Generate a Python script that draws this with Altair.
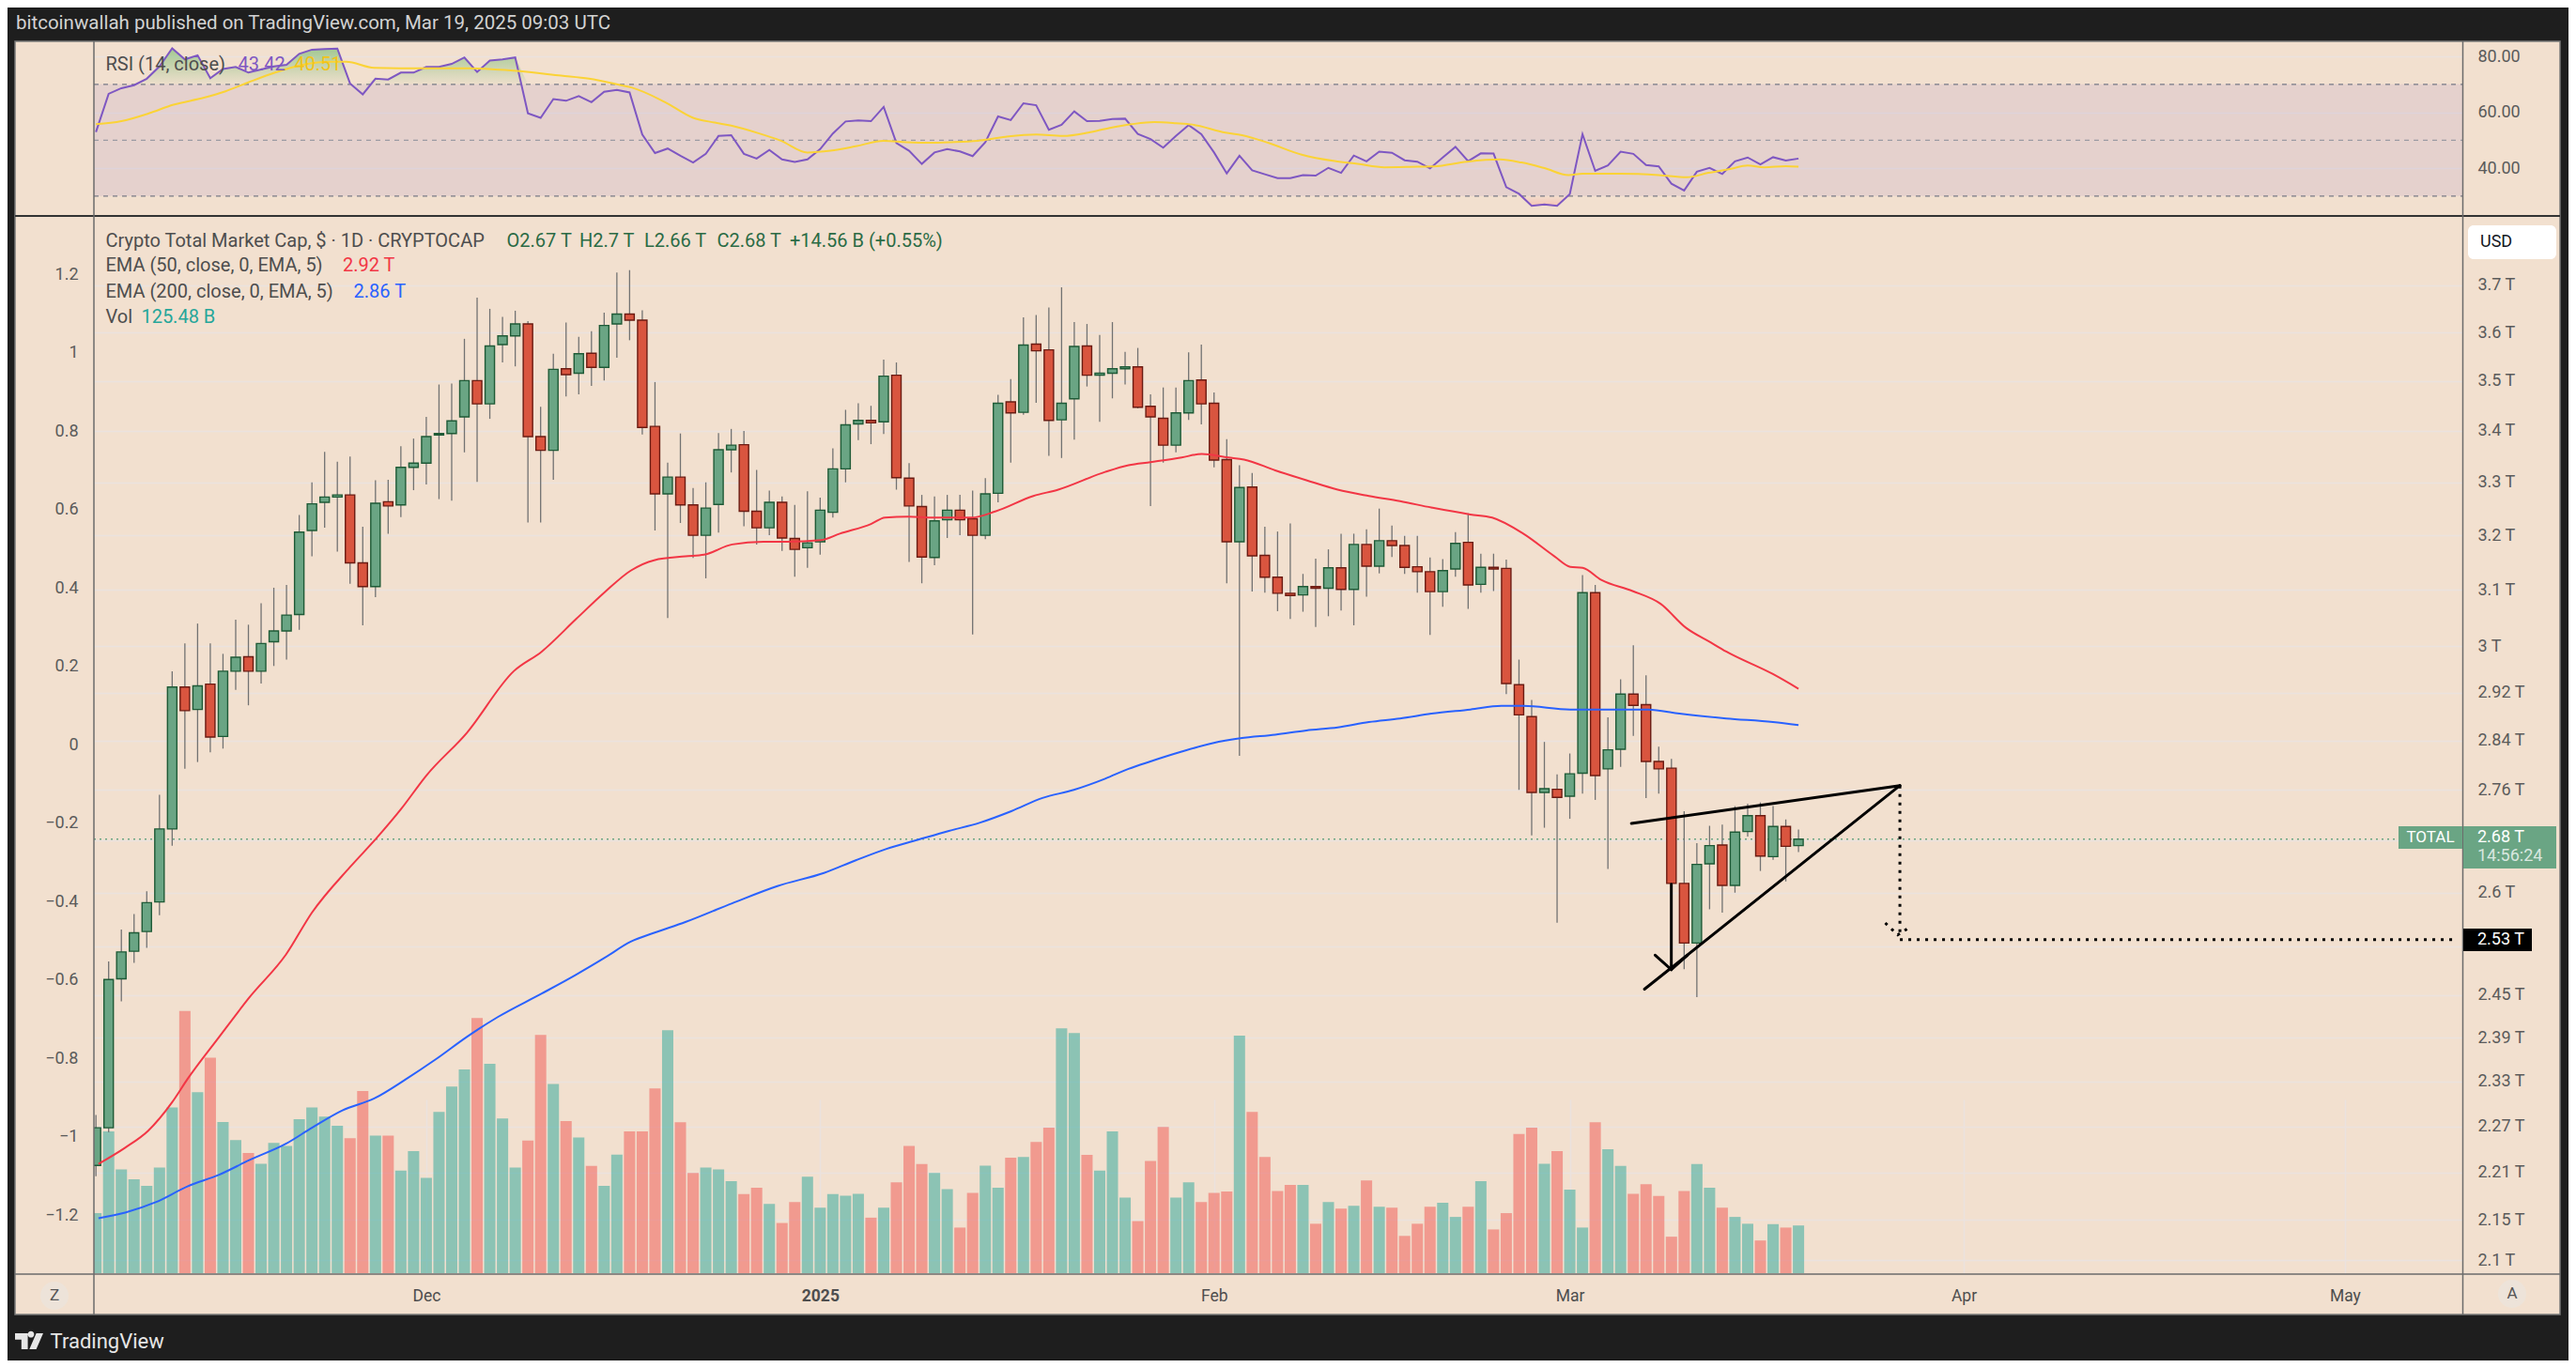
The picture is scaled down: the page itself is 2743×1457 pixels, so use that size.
import altair as alt
import pandas as pd

# ---------------- colours ----------------
BG = "#f2e0cf"
DARK = "#1e1e1e"
GRID = "#ebe2de"
TXT = "#4e4e4e"
AXTXT = "#5b5b5b"
UP_BODY, UP_EDGE = "#6aa584", "#1e5a36"
DN_BODY, DN_EDGE = "#d9553f", "#6b1b12"
WICK = "#727272"
VOL_UP, VOL_DN = "#26a69a", "#ef5350"
EMA50_C, EMA200_C = "#f23645", "#2962ff"
RSI_C, RSIMA_C = "#7e57c2", "#fbd336"
VAL_GREEN = "#2b6b45"
LEG = 20  # legend font size

# ---------------- data ----------------
FIRST_DAY = "2024-11-05"
OPEN = [2.219, 2.268, 2.473, 2.513, 2.542, 2.586, 2.698, 2.930, 2.892, 2.935,
        2.847, 2.957, 2.982, 2.957, 3.008, 3.027, 3.056, 3.209, 3.262, 3.272,
        3.276, 3.149, 3.106, 3.263, 3.257, 3.329, 3.337, 3.392, 3.395, 3.428,
        3.501, 3.454, 3.575, 3.593, 3.618, 3.389, 3.362, 3.525, 3.516, 3.557,
        3.528, 3.618, 3.639, 3.626, 3.409, 3.278, 3.310, 3.257, 3.200, 3.258,
        3.363, 3.373, 3.245, 3.214, 3.262, 3.194, 3.177, 3.188, 3.243, 3.326,
        3.414, 3.421, 3.418, 3.512, 3.308, 3.254, 3.159, 3.229, 3.247, 3.231,
        3.200, 3.279, 3.458, 3.437, 3.576, 3.564, 3.422, 3.464, 3.572, 3.512,
        3.516, 3.525, 3.529, 3.449, 3.425, 3.372, 3.436, 3.502, 3.455, 3.344,
        3.188, 3.291, 3.163, 3.123, 3.094, 3.091, 3.106, 3.103, 3.140, 3.101,
        3.183, 3.143, 3.190, 3.181, 3.142, 3.133, 3.097, 3.138, 3.187, 3.110,
        3.141, 3.139, 2.934, 2.880, 2.756, 2.761, 2.750, 2.787, 3.095, 2.794,
        2.826, 2.918, 2.900, 2.806, 2.795, 2.614, 2.525, 2.644, 2.673, 2.611,
        2.694, 2.719, 2.655, 2.702, 2.672]
HIGH = [2.285, 2.498, 2.545, 2.568, 2.602, 2.752, 2.957, 3.005, 3.040, 3.005,
        2.987, 3.047, 3.038, 3.076, 3.104, 3.109, 3.238, 3.300, 3.359, 3.340,
        3.350, 3.216, 3.304, 3.305, 3.370, 3.385, 3.428, 3.493, 3.495, 3.587,
        3.674, 3.650, 3.633, 3.646, 3.624, 3.448, 3.556, 3.621, 3.591, 3.603,
        3.642, 3.728, 3.733, 3.647, 3.498, 3.338, 3.395, 3.289, 3.300, 3.396,
        3.404, 3.400, 3.324, 3.284, 3.273, 3.257, 3.283, 3.271, 3.366, 3.442,
        3.455, 3.450, 3.544, 3.538, 3.337, 3.276, 3.273, 3.276, 3.276, 3.284,
        3.308, 3.472, 3.504, 3.632, 3.637, 3.653, 3.696, 3.622, 3.618, 3.595,
        3.622, 3.560, 3.568, 3.473, 3.487, 3.487, 3.559, 3.575, 3.477, 3.384,
        3.333, 3.318, 3.216, 3.207, 3.222, 3.129, 3.157, 3.174, 3.203, 3.203,
        3.211, 3.250, 3.218, 3.199, 3.199, 3.159, 3.156, 3.206, 3.241, 3.166,
        3.166, 3.155, 2.977, 2.908, 2.838, 2.785, 2.819, 3.127, 3.109, 2.879,
        2.943, 3.002, 2.950, 2.830, 2.810, 2.726, 2.676, 2.703, 2.705, 2.734,
        2.738, 2.740, 2.734, 2.713, 2.697]
LOW = [2.205, 2.262, 2.441, 2.496, 2.518, 2.566, 2.672, 2.794, 2.805, 2.821,
       2.827, 2.925, 2.899, 2.936, 2.966, 2.977, 3.029, 3.161, 3.214, 3.170,
       3.111, 3.037, 3.087, 3.203, 3.234, 3.285, 3.296, 3.268, 3.265, 3.358,
       3.301, 3.424, 3.538, 3.530, 3.224, 3.224, 3.305, 3.469, 3.473, 3.490,
       3.501, 3.548, 3.584, 3.393, 3.209, 3.050, 3.223, 3.158, 3.121, 3.205,
       3.319, 3.217, 3.183, 3.200, 3.171, 3.124, 3.140, 3.164, 3.233, 3.300,
       3.382, 3.374, 3.394, 3.286, 3.151, 3.112, 3.145, 3.195, 3.200, 3.021,
       3.193, 3.262, 3.338, 3.432, 3.456, 3.351, 3.347, 3.383, 3.489, 3.418,
       3.465, 3.493, 3.445, 3.255, 3.338, 3.358, 3.422, 3.413, 3.329, 3.112,
       2.815, 3.097, 3.095, 3.062, 3.048, 3.061, 3.034, 3.053, 3.063, 3.037,
       3.088, 3.130, 3.160, 3.129, 3.095, 3.020, 3.070, 3.124, 3.066, 3.095,
       3.098, 2.918, 2.760, 2.688, 2.700, 2.555, 2.714, 2.754, 2.744, 2.636,
       2.797, 2.848, 2.747, 2.754, 2.590, 2.487, 2.447, 2.575, 2.570, 2.600,
       2.686, 2.633, 2.650, 2.617, 2.662]
CLOSE = [2.268, 2.472, 2.512, 2.540, 2.585, 2.698, 2.930, 2.890, 2.932, 2.846,
         2.957, 2.981, 2.957, 3.005, 3.027, 3.055, 3.206, 3.259, 3.272, 3.276,
         3.149, 3.106, 3.260, 3.255, 3.329, 3.337, 3.389, 3.395, 3.420, 3.501,
         3.454, 3.572, 3.593, 3.618, 3.389, 3.362, 3.524, 3.513, 3.556, 3.528,
         3.615, 3.639, 3.626, 3.407, 3.278, 3.310, 3.257, 3.200, 3.251, 3.363,
         3.372, 3.245, 3.214, 3.262, 3.195, 3.174, 3.186, 3.247, 3.326, 3.412,
         3.421, 3.416, 3.510, 3.309, 3.255, 3.160, 3.227, 3.247, 3.229, 3.200,
         3.278, 3.455, 3.436, 3.574, 3.562, 3.421, 3.455, 3.571, 3.512, 3.516,
         3.525, 3.529, 3.447, 3.428, 3.372, 3.436, 3.501, 3.454, 3.343, 3.188,
         3.290, 3.162, 3.123, 3.094, 3.090, 3.106, 3.103, 3.140, 3.101, 3.183,
         3.143, 3.190, 3.181, 3.141, 3.133, 3.097, 3.135, 3.185, 3.109, 3.141,
         3.138, 2.936, 2.883, 2.756, 2.762, 2.748, 2.786, 3.095, 2.783, 2.825,
         2.918, 2.899, 2.806, 2.794, 2.614, 2.525, 2.643, 2.672, 2.611, 2.693,
         2.719, 2.656, 2.702, 2.671, 2.682]
VOLUME_B = [158, 373, 273, 247, 230, 278, 436, 690, 476, 567,
            398, 350, 316, 288, 343, 335, 405, 436, 412, 388,
            355, 479, 362, 362, 270, 321, 251, 424, 491, 536,
            671, 551, 407, 278, 349, 627, 498, 400, 357, 282,
            230, 312, 373, 373, 486, 639, 397, 264, 278, 273,
            242, 208, 225, 182, 132, 187, 254, 172, 208, 204,
            209, 146, 172, 239, 335, 287, 264, 221, 120, 211,
            283, 225, 304, 306, 345, 383, 644, 632, 311, 270,
            373, 199, 137, 295, 385, 199, 239, 187, 211, 215,
            625, 424, 306, 216, 232, 232, 130, 187, 170, 177,
            244, 175, 172, 98, 130, 175, 185, 148, 175, 242,
            115, 158, 366, 383, 288, 321, 220, 120, 397, 326,
            282, 209, 234, 203, 96, 216, 287, 225, 172, 148,
            130, 86, 129, 120, 125.48]
RSI = [52.9, 66.6, 68.6, 69.7, 72.0, 76.4, 82.9, 78.9, 80.4, 72.2,
       75.5, 76.2, 74.2, 75.3, 76.4, 77.0, 80.9, 82.4, 82.6, 82.8,
       70.3, 66.4, 72.0, 71.7, 74.2, 74.2, 76.2, 76.2, 77.3, 79.6,
       74.4, 78.5, 78.9, 79.6, 59.6, 58.0, 64.7, 64.1, 65.8, 63.6,
       67.3, 68.0, 67.1, 52.0, 45.4, 47.0, 44.4, 42.0, 45.1, 51.5,
       51.8, 45.1, 43.4, 46.5, 43.1, 42.2, 43.1, 46.8, 52.4, 56.7,
       57.1, 56.8, 61.9, 49.0, 46.2, 41.5, 45.6, 46.8, 46.0, 44.3,
       49.3, 58.5, 57.2, 63.2, 62.5, 53.7, 55.5, 60.3, 56.8, 56.9,
       57.6, 57.7, 52.2, 50.4, 47.3, 51.5, 55.4, 52.1, 45.6, 38.1,
       44.4, 39.2, 37.8, 36.4, 36.4, 37.5, 37.3, 40.1, 38.3, 44.5,
       42.4, 45.9, 45.5, 42.8, 42.3, 39.9, 43.8, 47.6, 42.5, 45.3,
       45.2, 33.2, 30.8, 26.5, 27.0, 26.5, 30.7, 52.1, 39.0, 41.0,
       45.9, 45.1, 41.1, 40.6, 34.4, 32.0, 38.7, 40.1, 37.9, 42.4,
       43.8, 41.3, 43.9, 42.7, 43.42]

# day offsets are counted from 2024-12-01
EMA50_DAY = [-25.8, -23.7, -21.9, -20.0, -18.8, -16.3, -13.9, -11.05, -9.0, -6.0,
             -3.9, -2.0, 0.0, 3.19, 6.88, 9.09, 11.79, 14.0, 16.09, 17.93,
             20.39, 21.86, 24.07, 26.53, 28.37, 31.08, 32.55, 35.0, 36.1, 37.95,
             39.92, 42.87, 44.83, 47.78, 49.74, 53.43, 55.27, 56.99, 59.45, 61.04,
             63.13, 64.36, 66.82, 69.27, 71.73, 74.19, 76.64, 79.1, 82.17, 83.89,
             86.34, 88.8, 90.03, 91.01, 92.48, 94.94, 97.15, 99.12, 101.08, 102.31,
             105.99, 108.0]
EMA50 = [2.221, 2.242, 2.264, 2.302, 2.333, 2.391, 2.447, 2.508, 2.570, 2.639,
         2.684, 2.729, 2.783, 2.853, 2.957, 2.991, 3.048, 3.095, 3.135, 3.154,
         3.161, 3.164, 3.183, 3.188, 3.188, 3.191, 3.203, 3.221, 3.233, 3.235,
         3.233, 3.233, 3.245, 3.274, 3.286, 3.320, 3.333, 3.339, 3.348, 3.355,
         3.348, 3.344, 3.323, 3.304, 3.286, 3.274, 3.264, 3.252, 3.239, 3.233,
         3.203, 3.161, 3.142, 3.140, 3.118, 3.098, 3.075, 3.033, 3.007, 2.991,
         2.952, 2.927]
EMA200_DAY = [-25.8, -23.7, -21.3, -18.8, -16.3, -13.9, -11.05, -9.0, -6.6, -4.1,
              -1.6, 0.74, 3.19, 5.65, 9.09, 11.79, 14.0, 16.09, 17.93, 20.39,
              24.07, 27.63, 31.3, 33.76, 36.22, 38.67, 41.13, 43.59, 46.04, 48.5,
              50.96, 53.43, 55.27, 56.99, 59.45, 61.9, 64.07, 66.82, 69.27, 71.73,
              74.19, 76.64, 79.1, 82.17, 84.62, 86.34, 90.03, 96.17, 98.63, 102.31,
              105.99, 108.0]
EMA200 = [2.152, 2.159, 2.172, 2.192, 2.207, 2.226, 2.247, 2.268, 2.291, 2.307,
          2.333, 2.360, 2.391, 2.419, 2.452, 2.479, 2.503, 2.527, 2.540, 2.556,
          2.584, 2.610, 2.630, 2.649, 2.667, 2.681, 2.695, 2.708, 2.726, 2.747,
          2.760, 2.778, 2.794, 2.806, 2.822, 2.836, 2.844, 2.850, 2.857, 2.862,
          2.871, 2.877, 2.885, 2.892, 2.898, 2.898, 2.892, 2.892, 2.885, 2.877,
          2.871, 2.866]
RSI_MA_DAY = [-26, -24, -21.84, -19.9, -17.5, -15.8, -14.05, -11.9, -9.7, -7.6,
              -6.3, -4.1, -0.2, 3.2, 7.1, 10.6, 12.8, 15.3, 16.2, 18.8,
              21.0, 22.7, 24.0, 26.2, 27.9, 30.0, 31.8, 33.9, 36.0, 37.8,
              39.6, 41.3, 43.4, 45.6, 48.0, 50.1, 52.1, 53.8, 55.5, 57.3,
              59.0, 60.3, 62.9, 64.2, 66.3, 68.9, 71.5, 73.3, 75.4, 78.0,
              79.3, 81.9, 84.5, 86.2, 88.0, 89.9, 91.0, 94.0, 97.0, 99.2,
              100.9, 102.6, 104.0, 105.3, 107.0, 108.0]
RSI_MA = [55.7, 56.8, 59.6, 62.7, 65.2, 67.5, 70.6, 74.2, 77.0, 78.1,
          78.1, 75.9, 75.7, 75.7, 74.8, 73.1, 72.0, 69.7, 68.8, 63.6,
          58.0, 56.3, 55.2, 52.4, 49.8, 45.6, 46.2, 47.9, 49.8, 49.3,
          49.1, 49.3, 49.8, 51.2, 52.0, 51.5, 52.7, 54.4, 55.7, 56.5,
          56.1, 55.6, 52.7, 51.8, 49.0, 44.8, 42.5, 41.5, 40.3, 40.5,
          40.6, 42.3, 43.1, 42.0, 40.0, 37.5, 38.0, 38.0, 37.5, 36.7,
          38.3, 39.7, 40.9, 40.3, 40.7, 40.51]

# drawing-tool objects (day offset, price in T)
TRI_SEG = ["upper", "upper", "lower", "lower", "shaft", "shaft",
           "barbL", "barbL", "barbR", "barbR"]
TRI_DAY = [94.85, 115.98, 95.88, 115.98, 97.99, 97.99, 96.72, 97.99, 99.26, 97.99]
TRI_PRICE = [2.7068, 2.7669, 2.4582, 2.7669, 2.6129, 2.4864, 2.5073, 2.4864, 2.5073, 2.4864]
DOT_SEG = ["vert", "vert", "horiz", "horiz", "head", "head", "head"]
DOT_DAY = [115.98, 115.98, 115.98, 159.88, 114.83, 115.81, 116.74]
DOT_PRICE = [2.7669, 2.5407, 2.53, 2.53, 2.5546, 2.5370, 2.5481]
TARGET = 2.53

PRICE_TICKS = [3.7, 3.6, 3.5, 3.4, 3.3, 3.2, 3.1, 3, 2.92, 2.84, 2.76, 2.68,
               2.6, 2.52, 2.45, 2.39, 2.33, 2.27, 2.21, 2.15, 2.1]
RSI_TICKS = [80, 60, 40]
RSI_LEVELS = [70, 30]
RSI_MID = [50]
LEFT_TICKS = [1.2, 1, 0.8, 0.6, 0.4, 0.2, 0, -0.2, -0.4, -0.6, -0.8, -1, -1.2]
MONTH_TICKS = [0, 31, 62, 90, 121, 151]
MONTH_LABELS = ["Dec", "2025", "Feb", "Mar", "Apr", "May"]

n = len(CLOSE)
assert len(OPEN) == len(HIGH) == len(LOW) == n == len(VOLUME_B) == len(RSI)
assert len(EMA50_DAY) == len(EMA50) and len(EMA200_DAY) == len(EMA200)
assert len(RSI_MA_DAY) == len(RSI_MA)

dates = pd.date_range(FIRST_DAY, periods=n, freq="D")
origin = pd.Timestamp("2024-12-01")
candles = pd.DataFrame({
    "date": dates.strftime("%Y-%m-%d"),
    "d": [(t - origin).days for t in dates],
    "o": OPEN, "h": HIGH, "l": LOW, "c": CLOSE, "vol": VOLUME_B, "rsi": RSI,
})
ema50_df = pd.DataFrame({"d": EMA50_DAY, "v": EMA50})
ema200_df = pd.DataFrame({"d": EMA200_DAY, "v": EMA200})
rsima_df = pd.DataFrame({"d": RSI_MA_DAY, "v": RSI_MA})
tri_df = pd.DataFrame({"seg": TRI_SEG, "d": TRI_DAY, "p": TRI_PRICE, "i": list(range(len(TRI_SEG)))})
dot_df = pd.DataFrame({"seg": DOT_SEG, "d": DOT_DAY, "p": DOT_PRICE, "i": list(range(len(DOT_SEG)))})
ONE = pd.DataFrame({"a": [0]})

# ---------------- geometry ----------------
W, H = 2522, 1312
SPLIT = 185

XS = alt.Scale(domain=[-25.79, 159.88], nice=False, zero=False)
PS = alt.Scale(type="log", domain=[2.0843, 3.8545], range=[H, SPLIT], nice=False)
VS = alt.Scale(domain=[0, 2784], range=[H, SPLIT], nice=False, zero=False)
RS = alt.Scale(domain=[23.21, 85.39], range=[SPLIT, 0], nice=False, zero=False)
LS = alt.Scale(domain=[-1.3485, 1.3509], range=[H, SPLIT], nice=False, zero=False)

lab = "''"
for v, s in reversed(list(zip(MONTH_TICKS, MONTH_LABELS))):
    lab = f"datum.value == {v} ? '{s}' : {lab}"

XAX = alt.Axis(values=MONTH_TICKS, labelExpr=lab, title=None, grid=True,
               gridColor=GRID, gridWidth=1.5, domain=False, ticks=False,
               labelPadding=24, labelBaseline="middle", labelFontSize=17.5,
               labelColor=TXT, labelOverlap=False, labelFlush=False,
               labelFontWeight={"condition": {"test": "datum.value == 31", "value": "bold"},
                                "value": "normal"})
PAX = alt.Axis(orient="right", values=PRICE_TICKS, title=None, grid=True,
               gridColor=GRID, gridWidth=1.5, domain=False, ticks=False,
               labelExpr="datum.value == 2.68 || datum.value == 2.52 ? '' : datum.value + ' T'",
               labelPadding=16, labelAlign="left", labelFontSize=18,
               labelColor=AXTXT, labelOverlap=False, offset=0)
RAX = alt.Axis(orient="right", values=RSI_TICKS, format=".2f", title=None,
               grid=True, gridColor=GRID, gridWidth=1.5, domain=False,
               ticks=False, labelPadding=16, labelAlign="left",
               labelFontSize=18, labelColor=AXTXT, labelOverlap=False, offset=0)
LAX = alt.Axis(orient="left", values=LEFT_TICKS, format="~g", title=None,
               grid=False, domain=False, ticks=False, labelPadding=17,
               labelFontSize=18, labelColor=AXTXT, labelOverlap=False)


def X(field):
    return alt.X(f"{field}:Q", scale=XS, axis=XAX)


def PY(field, axis=None):
    return alt.Y(f"{field}:Q", scale=PS, axis=axis)


def up(a, b):
    return alt.condition("datum.c >= datum.o", alt.value(a), alt.value(b))


def prect(x1, x2, y1, y2, **kw):
    return alt.Chart(ONE).mark_rect(**kw).encode(
        x=alt.value(x1), x2=alt.value(x2), y=alt.value(y1), y2=alt.value(y2))


def prule(x1, x2, y1, y2, color, w):
    return alt.Chart(ONE).mark_rule(color=color, strokeWidth=w).encode(
        x=alt.value(x1), x2=alt.value(x2), y=alt.value(y1), y2=alt.value(y2))


def txt(x, y, s, color=TXT, size=LEG, align="left", weight="normal"):
    return alt.Chart(ONE).mark_text(align=align, baseline="middle", fontSize=size,
                                    fontWeight=weight, color=color, font="Roboto").encode(
        x=alt.value(x), y=alt.value(y), text=alt.value(s))


def ptxt(p, x, dy, s, color="white", size=18, align="left"):
    return alt.Chart(pd.DataFrame({"p": [p]})).mark_text(
        align=align, baseline="middle", fontSize=size, color=color, dy=dy, font="Roboto").encode(
        x=alt.value(x), y=PY("p"), text=alt.value(s))


def pbox(p, cx, hw, top, bot, color):
    r = 12.0
    path = f"M{-hw / r:.4f},{top / r:.4f}H{hw / r:.4f}V{bot / r:.4f}H{-hw / r:.4f}Z"
    return alt.Chart(pd.DataFrame({"p": [p]})).mark_point(
        shape=path, size=576, filled=True, color=color, opacity=1, strokeWidth=0).encode(
        x=alt.value(cx), y=PY("p"))


# ---------------- RSI pane ----------------
rsi_band = alt.Chart(pd.DataFrame({"top": [70], "bot": [30]})).mark_rect(
    color=RSI_C, opacity=0.11).encode(
    x=alt.value(0), x2=alt.value(W), y=alt.Y("top:Q", scale=RS, axis=RAX), y2=alt.Y2("bot"))
rsi_lvls = alt.Chart(pd.DataFrame({"lvl": RSI_LEVELS})).mark_rule(
    color="#787b86", strokeDash=[5, 5], strokeWidth=1.3).encode(
    x=alt.value(0), x2=alt.value(W), y=alt.Y("lvl:Q", scale=RS, axis=None))
rsi_mid = alt.Chart(pd.DataFrame({"lvl": RSI_MID})).mark_rule(
    color="#9b9ba3", strokeDash=[5, 5], strokeWidth=1.3).encode(
    x=alt.value(0), x2=alt.value(W), y=alt.Y("lvl:Q", scale=RS, axis=None))
ob_fill = alt.Chart(candles).transform_calculate(
    top="max(datum.rsi, 70)", base="70").mark_area(
    clip=True,
    color=alt.Gradient(gradient="linear",
                       stops=[alt.GradientStop(color="rgba(76,175,80,0.48)", offset=0),
                              alt.GradientStop(color="rgba(76,175,80,0.03)", offset=1)],
                       x1=1, x2=1, y1=0, y2=1)).encode(
    x=X("d"), y=alt.Y("top:Q", scale=RS, axis=None), y2=alt.Y2("base"))
os_fill = alt.Chart(candles).transform_calculate(
    bot="min(datum.rsi, 30)", base="30").mark_area(
    clip=True,
    color=alt.Gradient(gradient="linear",
                       stops=[alt.GradientStop(color="rgba(255,82,82,0.02)", offset=0),
                              alt.GradientStop(color="rgba(255,82,82,0.2)", offset=1)],
                       x1=1, x2=1, y1=0, y2=1)).encode(
    x=X("d"), y=alt.Y("base:Q", scale=RS, axis=None), y2=alt.Y2("bot"))
rsi_line = alt.Chart(candles).mark_line(color=RSI_C, strokeWidth=2, clip=True).encode(
    x=X("d"), y=alt.Y("rsi:Q", scale=RS, axis=None))
rsi_ma = alt.Chart(rsima_df).mark_line(color=RSIMA_C, strokeWidth=2, clip=True,
                                       interpolate="monotone").encode(
    x=X("d"), y=alt.Y("v:Q", scale=RS, axis=None))

# ---------------- main pane ----------------
vol = alt.Chart(candles).mark_bar(size=12, opacity=0.5, clip=True, orient="vertical").encode(
    x=X("d"), y=alt.Y("vol:Q", scale=VS, axis=None), color=up(VOL_UP, VOL_DN))
last_line = alt.Chart(pd.DataFrame({"p": [CLOSE[-1]]})).mark_rule(
    color=UP_BODY, strokeDash=[2, 4], strokeWidth=1.5).encode(
    x=alt.value(0), x2=alt.value(2454), y=PY("p"))
wicks = alt.Chart(candles).mark_rule(color=WICK, strokeWidth=1.3, clip=True).encode(
    x=X("d"), y=PY("l", PAX), y2=alt.Y2("h"))
bodies = alt.Chart(candles).mark_bar(size=10, strokeWidth=1.4, clip=True, orient="vertical").encode(
    x=X("d"), y=PY("o"), y2=alt.Y2("c"), fill=up(UP_BODY, DN_BODY), stroke=up(UP_EDGE, DN_EDGE))
ema200 = alt.Chart(ema200_df).mark_line(color=EMA200_C, strokeWidth=2, clip=True,
                                        interpolate="monotone").encode(x=X("d"), y=PY("v"))
ema50 = alt.Chart(ema50_df).mark_line(color=EMA50_C, strokeWidth=2, clip=True,
                                      interpolate="monotone").encode(x=X("d"), y=PY("v"))
tri = alt.Chart(tri_df).mark_line(color="black", strokeWidth=3, strokeCap="round").encode(
    x=X("d"), y=PY("p"), detail="seg:N", order="i:Q")
dots = alt.Chart(dot_df).mark_line(color="black", strokeWidth=3, strokeDash=[3, 6]).encode(
    x=X("d"), y=PY("p"), detail="seg:N", order="i:Q")
left_axis = alt.Chart(pd.DataFrame({"v": LEFT_TICKS})).mark_point(opacity=0).encode(
    y=alt.Y("v:Q", scale=LS, axis=LAX))

# ---------------- chrome ----------------
chrome = [
    prect(-92, 2635, -36, 0, color=DARK),
    prect(-92, 2635, 1356, 1405, color=DARK),
    prect(-92, -84, 0, 1356, color=DARK),
    prect(2626, 2635, 0, 1356, color=DARK),
    prect(-84, 2626, 0, 1356, fill="transparent", stroke="#7a7a7a", strokeWidth=1.5),
    prule(-84, 2626, 186, 186, "#333333", 2),
    prule(0, 0, 0, 1356, "#6b6b6b", 1.5),
    prule(2522.5, 2522.5, 0, 1356, "#6b6b6b", 1.5),
    prule(-84, 2626, 1313, 1313, "#6b6b6b", 1.5),
    prect(2528, 2622, 196, 232, color="white", cornerRadius=6),
    txt(2541, 214, "USD", color="#131722", size=18),
    alt.Chart(ONE).mark_point(filled=True, size=900, color="#ede3d9", opacity=1).encode(
        x=alt.value(-42), y=alt.value(1336)),
    alt.Chart(ONE).mark_point(filled=True, size=900, color="#ede3d9", opacity=1).encode(
        x=alt.value(2575), y=alt.value(1334)),
    txt(-42, 1336, "Z", color="#555555", size=17, align="center"),
    txt(2575, 1334, "A", color="#555555", size=17, align="center"),
    # price labels on the right scale
    pbox(CLOSE[-1], 2488, 34, -13.8, 10.2, UP_BODY),
    ptxt(CLOSE[-1], 2488, -2, "TOTAL", size=17, align="center"),
    pbox(CLOSE[-1], 2572.5, 49.5, -13.8, 31.2, UP_BODY),
    ptxt(CLOSE[-1], 2538, -2, "2.68 T"),
    ptxt(CLOSE[-1], 2538, 18.5, "14:56:24", color="rgba(255,255,255,0.75)"),
    pbox(TARGET, 2559.5, 36.5, -11.7, 12.3, "black"),
    ptxt(TARGET, 2538, 0, "2.53 T"),
    # legends
    txt(12.5, 25, "RSI (14, close)"),
    txt(153.4, 25, "43.42", color=RSI_C),
    txt(213.3, 25, "40.51", color="#f2c318"),
    txt(12.5, 213, "Crypto Total Market Cap, $ · 1D · CRYPTOCAP"),
    txt(439.6, 213, "O2.67 T", color=VAL_GREEN),
    txt(517, 213, "H2.7 T", color=VAL_GREEN),
    txt(586, 213, "L2.66 T", color=VAL_GREEN),
    txt(663.5, 213, "C2.68 T", color=VAL_GREEN),
    txt(741, 213, "+14.56 B (+0.55%)", color=VAL_GREEN),
    txt(12.5, 239, "EMA (50, close, 0, EMA, 5)"),
    txt(265, 239, "2.92 T", color=EMA50_C),
    txt(12.5, 267, "EMA (200, close, 0, EMA, 5)"),
    txt(276.6, 267, "2.86 T", color=EMA200_C),
    txt(12.5, 294, "Vol"),
    txt(50.4, 294, "125.48 B", color="#26a69a"),
    # header / footer
    txt(-83, -19, "bitcoinwallah published on TradingView.com, Mar 19, 2025 09:03 UTC",
        color="#d2d2d2", size=20.5),
    alt.Chart(ONE).mark_point(
        shape=("M-0.094,-0.566L-1,-0.566L-1,-0.113L-0.547,-0.113L-0.547,0.566L-0.094,0.566Z"
               "M0.509,0.566L0.019,0.566L0.509,-0.566L1,-0.566Z"
               "M0.132,-0.264A0.226,0.226,0,1,0,0.132,-0.717A0.226,0.226,0,1,0,0.132,-0.264Z"),
        size=900, filled=True, color="#e6e6e6", opacity=1, strokeWidth=0).encode(
        x=alt.value(-69), y=alt.value(1384.5)),
    txt(-46.4, 1385, "TradingView", color="#e6e6e6", size=22),
]

layers = [rsi_band, rsi_lvls, rsi_mid, ob_fill, os_fill, rsi_line, rsi_ma,
          vol, last_line, wicks, bodies, ema200, ema50, tri, dots, left_axis] + chrome

chart = alt.layer(*layers).resolve_scale(y="independent").properties(
    width=W, height=H,
    autosize=alt.AutoSizeParams(type="none"),
    padding={"left": 92, "top": 36, "right": 113, "bottom": 93},
).configure(background=BG, font="Roboto").configure_view(strokeWidth=0)

chart.save("out.html", embed_options={"renderer": "svg", "actions": False})
